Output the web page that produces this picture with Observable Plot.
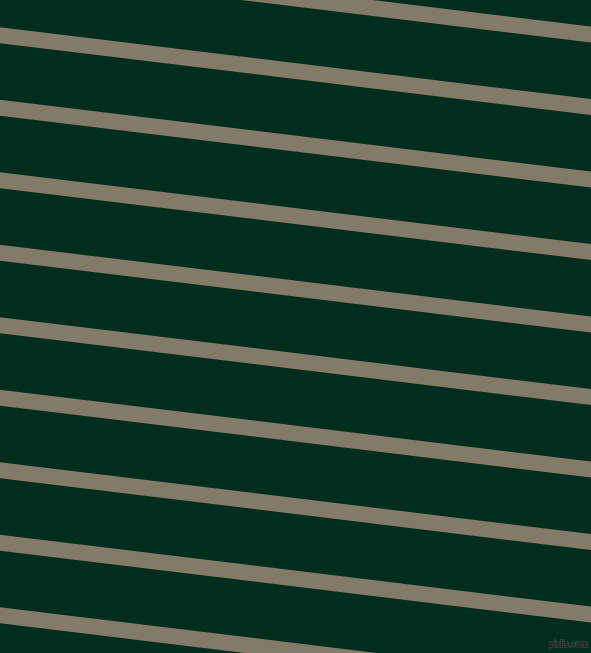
<!DOCTYPE html>
<html>
<head>
<meta charset="utf-8">
<script src="https://cdn.jsdelivr.net/npm/d3@7"></script>
<script src="https://cdn.jsdelivr.net/npm/@observablehq/plot@0.6"></script>
<style>
  html, body { margin: 0; padding: 0; background: #012d1e; overflow: hidden; }
  #chart svg { display: block; }
</style>
</head>
<body>
<div id="chart"></div>
<script>
// Stripe top edges, at the left edge (x=0) and right edge (x=591)
const stripeIds = [0, 1, 2, 3, 4, 5, 6, 7, 8, 9];
const leftTop  = [-45.2, 27.3, 99.8, 172.3, 244.8, 317.3, 389.8, 462.3, 534.8, 607.3];
const rightTop = [26.5, 99.0, 171.5, 244.0, 316.5, 389.0, 461.5, 534.0, 606.5, 679.0];
const edgeX = [0, 591];
const watermark = ["pixlis.com"];

const W = 591, H = 653;
const THICK = 16;

const rows = [];
stripeIds.forEach((id, i) => {
  rows.push({id, x: edgeX[0], top: leftTop[i], bottom: leftTop[i] + THICK});
  rows.push({id, x: edgeX[1], top: rightTop[i], bottom: rightTop[i] + THICK});
});

const chart = Plot.plot({
  width: W,
  height: H,
  margin: 0,
  style: {background: "#012d1e"},
  x: {domain: [0, W], range: [0, W], axis: null},
  y: {domain: [0, H], range: [0, H], axis: null},
  marks: [
    Plot.areaY(rows, {x: "x", y1: "top", y2: "bottom", z: "id", fill: "#837a68", clip: true}),
    Plot.text(watermark, {
      x: () => 568, y: () => 644, text: d => d,
      fill: "#000", stroke: "#4f6258", strokeWidth: 1, paintOrder: "stroke",
      fontSize: 9, fontFamily: "Liberation Sans"
    })
  ]
});
document.getElementById("chart").appendChild(chart);
</script>
</body>
</html>
